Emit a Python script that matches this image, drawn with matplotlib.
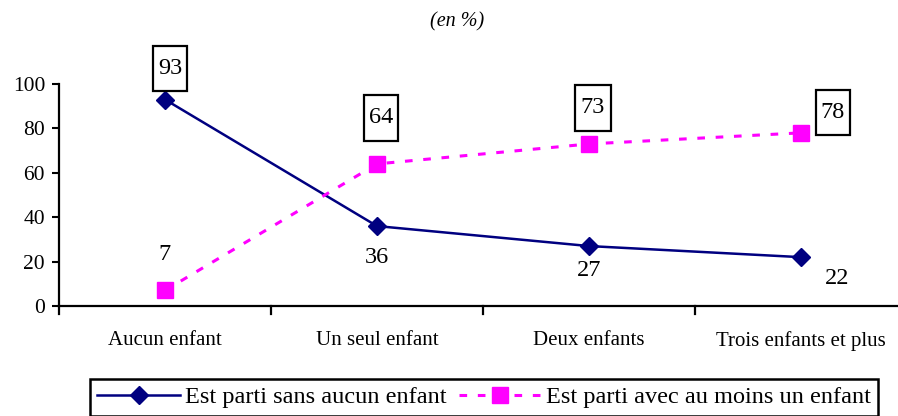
import matplotlib.pyplot as plt
import numpy as np
from matplotlib.path import Path

categories = ["Aucun enfant", "Un seul enfant", "Deux enfants", "Trois enfants et plus"]
sans_enfant = [93, 36, 27, 22]
avec_enfant = [7, 64, 73, 78]
label_sans = "Est parti sans aucun enfant"
label_avec = "Est parti avec au moins un enfant"

serif = ["Liberation Serif", "DejaVu Serif"]

fig = plt.figure(figsize=(8.98, 4.16), dpi=100)
W, H = 898, 416
# axes: y axis at x=59, categories 212 px apart, 0 at y=306 and 100 at y=84
ax = fig.add_axes([59 / W, (H - 306) / H, 848 / W, 222 / H])
x = np.arange(len(categories))

l1, = ax.plot(x, sans_enfant, color="#000080", lw=1.8, marker="D", ms=9,
              markeredgecolor="#000080", label=label_sans, zorder=3)
l2, = ax.plot(x, avec_enfant, color="#FF00FF", lw=2.2, ls=(0, (2.5, 3.5)), marker="s",
              ms=11.5, markeredgecolor="#FF00FF", label=label_avec, zorder=3)

ax.set_xlim(-0.5, 3.5)
ax.set_ylim(0, 100)
ax.set_yticks(range(0, 101, 20))
ax.set_xticks(np.arange(-0.5, 3.6, 1))
ax.set_xticklabels([])
ax.set_xticks(x, minor=True)
ax.set_xticklabels(categories, minor=True, fontfamily=serif, fontsize=15)
ax.tick_params(axis="x", which="minor", length=0, pad=18)
ax.tick_params(axis="x", which="major", length=0)
ax.tick_params(axis="y", direction="out", length=5, width=1.5, labelsize=15.5, pad=5)
for lbl in ax.get_yticklabels():
    lbl.set_fontfamily(serif)
for s in ["top", "right"]:
    ax.spines[s].set_visible(False)
for s in ["left", "bottom"]:
    ax.spines[s].set_linewidth(1.6)

# category separator ticks crossing the x axis
for xb in np.arange(-0.5, 3.6, 1):
    ax.plot([xb, xb], [-3.5, 0], color="black", lw=1.6, clip_on=False)


def tall_box(x0, y0, width, height, mutation_size):
    px = 0.22 * mutation_size
    py = 0.5 * mutation_size
    x0, y0 = x0 - px, y0 - py
    x1, y1 = x0 + width + 2 * px, y0 + height + 2 * py
    return Path([(x0, y0), (x1, y0), (x1, y1), (x0, y1), (x0, y0)], closed=True)


box = dict(boxstyle=tall_box, fc="white", ec="black", lw=1.6)

# value labels (offsets in pixels)
off_sans = [(5, 31), (0, -31), (0, -24), (36, -21)]
off_avec = [(0, 36), (4, 46), (4, 36), (32, 20)]
for i, v in enumerate(sans_enfant):
    ax.annotate(str(v), (x[i], v), xytext=off_sans[i], textcoords="offset pixels",
                ha="center", va="center", fontsize=17.5, fontfamily=serif,
                bbox=box if i == 0 else None)
for i, v in enumerate(avec_enfant):
    ax.annotate(str(v), (x[i], v), xytext=off_avec[i], textcoords="offset pixels",
                ha="center", va="center", fontsize=17.5, fontfamily=serif,
                bbox=box if i > 0 else None)

fig.text(457 / W, 1 - 22 / H, "(en %)", ha="center", va="center", fontsize=14.5,
         fontstyle="italic", fontfamily=serif)

leg = fig.legend(handles=[l1, l2], loc="upper left", bbox_to_anchor=(90 / W, 1 - 379 / H),
                 ncol=2, frameon=True, fancybox=False, edgecolor="black", framealpha=1,
                 prop={"family": serif, "size": 17.5}, handlelength=3.4,
                 handletextpad=0.2, columnspacing=0.5, borderpad=0.3, borderaxespad=0)
leg.get_frame().set_linewidth(1.8)

fig.savefig("out.png", dpi=100)
